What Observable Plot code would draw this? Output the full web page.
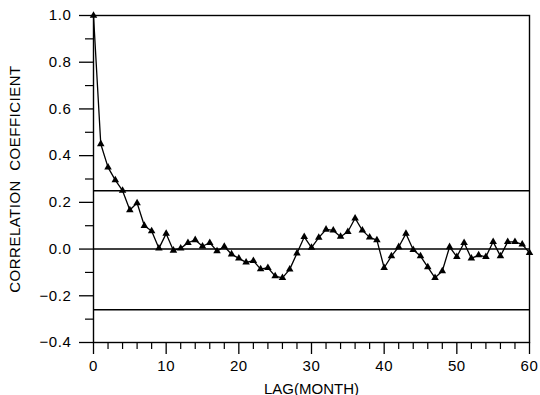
<!DOCTYPE html>
<html>
<head>
<meta charset="utf-8">
<script src="https://cdn.jsdelivr.net/npm/d3@7"></script>
<script src="https://cdn.jsdelivr.net/npm/@observablehq/plot@0.6"></script>
<style>
  html, body { margin: 0; padding: 0; background: #fff; }
  #chart { width: 540px; height: 395px; }
  #chart svg g[aria-label="y-axis tick label"] text,
  #chart svg g[aria-label="x-axis tick label"] text { letter-spacing: 0.6px; }
  #chart svg g[aria-label="y-axis label"] text { letter-spacing: 0.5px; }
</style>
</head>
<body>
<div id="chart"></div>
<script>
const lags = [0,1,2,3,4,5,6,7,8,9,10,11,12,13,14,15,16,17,18,19,20,21,22,23,24,25,26,27,28,29,30,
  31,32,33,34,35,36,37,38,39,40,41,42,43,44,45,46,47,48,49,50,51,52,53,54,55,56,57,58,59,60];
const corr = [1.0,0.45,0.35,0.295,0.25,0.167,0.197,0.10,0.077,0.003,0.066,-0.006,0.003,0.027,0.039,0.012,
  0.027,-0.009,0.011,-0.022,-0.04,-0.057,-0.05,-0.086,-0.08,-0.116,-0.123,-0.087,-0.018,0.052,0.006,
  0.049,0.084,0.08,0.053,0.074,0.132,0.08,0.05,0.038,-0.08,-0.03,0.009,0.066,-0.003,-0.03,-0.077,
  -0.123,-0.094,0.009,-0.033,0.027,-0.04,-0.026,-0.033,0.031,-0.03,0.031,0.031,0.02,-0.016];
const refLines = [0.25, 0, -0.26];
const yMajor = [-0.4,-0.2,0,0.2,0.4,0.6,0.8,1.0];
const yMinor = [-0.3,-0.1,0.1,0.3,0.5,0.7,0.9];
const xMajor = [0,10,20,30,40,50,60];
const xMinor = [2,4,6,8,12,14,16,18,22,24,26,28,32,34,36,38,42,44,46,48,52,54,56,58];

const data = lags.map((l, i) => ({lag: l, r: corr[i]}));

const chart = Plot.plot({
  width: 540,
  height: 395,
  marginLeft: 93,
  marginRight: 11,
  marginTop: 15,
  marginBottom: 53,
  style: {fontFamily: "'Liberation Sans', Arial, sans-serif", fontSize: "15px", color: "#000", background: "#fff"},
  x: {domain: [0, 60]},
  y: {domain: [-0.4, 1.0]},
  marks: [
    Plot.frame({stroke: "#000", strokeWidth: 1.4}),
    Plot.ruleY(refLines, {stroke: "#000", strokeWidth: 1.5}),
    Plot.axisY({ticks: yMajor, tickSize: 14, tickPadding: 8, tickFormat: d => d3.format(".1f")(d).replace("-", "\u2212"),
      strokeWidth: 1.3, label: "CORRELATION  COEFFICIENT", labelAnchor: "center", labelArrow: "none", labelOffset: 84, fontSize: 15}),
    Plot.axisY({ticks: yMinor, tickSize: 8, tickFormat: () => "", strokeWidth: 1.2, label: null}),
    Plot.axisX({ticks: xMinor, tickSize: 7, tickFormat: () => "", strokeWidth: 1.2, label: null}),
    Plot.axisX({ticks: xMajor, tickSize: 12, tickPadding: 6, strokeWidth: 1.3, fontSize: 15,
      label: "LAG(MONTH)", labelAnchor: "center", labelArrow: "none", labelOffset: 51}),
    Plot.line(data, {x: "lag", y: "r", stroke: "#000", strokeWidth: 1.3}),
    Plot.dot(data, {x: "lag", y: "r", symbol: "triangle", fill: "#000", r: 2.8})
  ]
});
document.getElementById("chart").appendChild(chart);
</script>
</body>
</html>
